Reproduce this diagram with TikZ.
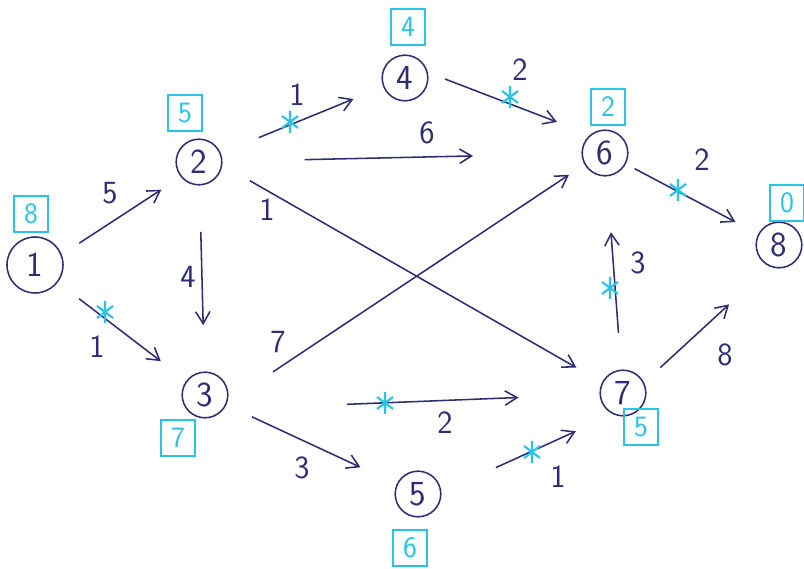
\documentclass[tikz,border=0pt]{standalone}
\usetikzlibrary{arrows.meta,calc}
\definecolor{ink}{RGB}{45,45,115}
\definecolor{tick}{RGB}{40,195,230}
\begin{document}
\begin{tikzpicture}[
  x=0.025cm, y=-0.025cm,
  font=\sffamily\fontsize{23}{26}\selectfont,
  vtx/.style={draw=ink, text=ink, circle, line width=1.1pt, minimum size=1.14cm, inner sep=0pt,
    font=\sffamily\fontsize{25}{28}\selectfont},
  dist/.style={draw=tick, text=tick, line width=1.4pt, minimum width=0.86cm, minimum height=0.9cm,
    inner sep=0pt, font=\sffamily\fontsize{21}{24}\selectfont},
  wt/.style={text=ink, inner sep=1pt},
  arr/.style={draw=ink, line width=1.1pt, -{Straight Barb[length=3mm,width=3.6mm]}},
  cut/.pic={\draw[draw=tick, line width=1.5pt] (0,-11) -- (0,11) (-8,-6) -- (8,6) (-8,6) -- (8,-6);}
]
\useasboundingbox (0,0) rectangle (804,569);

% vertices
\node[vtx, minimum size=1.4cm] (n1) at (35,265) {1};
\node[vtx] (n2) at (199,162) {2};
\node[vtx] (n3) at (205,395) {3};
\node[vtx] (n4) at (405,78)  {4};
\node[vtx] (n5) at (418,494) {5};
\node[vtx] (n6) at (605,153) {6};
\node[vtx] (n7) at (623,393) {7};
\node[vtx] (n8) at (779,245) {8};

% distances to 8
\node[dist] (d1) at (31,214)  {8};
\node[dist] (d2) at (185,113) {5};
\node[dist] (d3) at (178,438) {7};
\node[dist] (d4) at (408,27)  {4};
\node[dist] (d5) at (410,548) {6};
\node[dist] (d6) at (608,107) {2};
\node[dist] (d7) at (641,427) {5};
\node[dist] (d8) at (787,203) {0};

% arcs
\draw[arr] ($(n1)!.27!(n2)+(0,6)$) -- ($(n1)!.77!(n2)+(0,4)$);
\draw[arr] ($(n1)!.26!(n3)$) -- ($(n1)!.74!(n3)$);
\draw[arr] ($(n2)!.30!(n3)$) -- ($(n2)!.70!(n3)$);
\draw[arr] ($(n2)!.29!(n4)$) -- ($(n2)!.75!(n4)$);
\draw[arr] ($(n2)!.26!(n6)$) -- ($(n2)!.675!(n6)$);
\draw[arr] ($(n2)!.12!(n7)+(0,-9)$) -- ($(n2)!.89!(n7)$);
\draw[arr] ($(n3)!.17!(n6)+(0,18)$) -- ($(n3)!.91!(n6)$);
\draw[arr] ($(n3)!.22!(n5)$) -- ($(n3)!.73!(n5)$);
\draw[arr] ($(n3)!.34!(n7)+(0,10)$) -- ($(n3)!.75!(n7)+(0,4)$);
\draw[arr] ($(n4)!.20!(n6)+(0,-14)$) -- ($(n4)!.76!(n6)+(0,-13)$);
\draw[arr] ($(n5)!.38!(n7)+(0,12)$) -- ($(n5)!.77!(n7)+(0,15)$);
\draw[arr] ($(n6)!.17!(n8)$) -- ($(n6)!.75!(n8)$);
\draw[arr] ($(n7)!.25!(n6)$) -- ($(n7)!.67!(n6)$);
\draw[arr] ($(n7)!.24!(n8)+(0,10)$) -- ($(n7)!.68!(n8)+(0,12)$);

% weights
\node[wt] (w12) at (110,193) {5};
\node[wt] (w13) at (97,347)  {1};
\node[wt] (w23) at (188,277) {4};
\node[wt] (w24) at (297,95)  {1};
\node[wt] (w26) at (427,133) {6};
\node[wt] (w27) at (267,210) {1};
\node[wt] (w36) at (278,342) {7};
\node[wt] (w35) at (302,468) {3};
\node[wt] (w37) at (445,423) {2};
\node[wt] (w46) at (520,70)  {2};
\node[wt] (w57) at (558,477) {1};
\node[wt] (w68) at (702,160) {2};
\node[wt] (w76) at (638,263) {3};
\node[wt] (w78) at (725,355) {8};

% crossed-out arcs
\pic at (105,312) {cut};
\pic at (290,122) {cut};
\pic at (510,97)  {cut};
\pic at (678,190) {cut};
\pic at (610,288) {cut};
\pic at (385,403) {cut};
\pic at (532,452) {cut};
\end{tikzpicture}
\end{document}
